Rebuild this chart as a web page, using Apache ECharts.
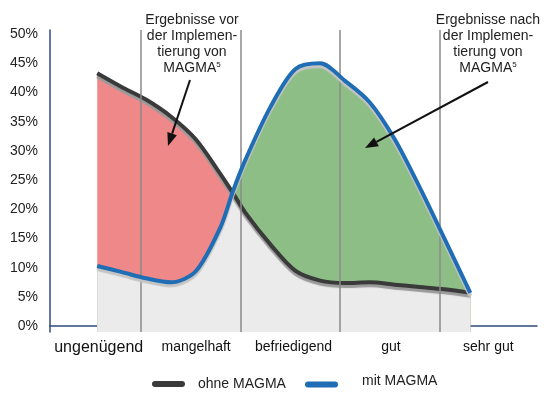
<!DOCTYPE html>
<html>
<head>
<meta charset="utf-8">
<script src="https://cdn.jsdelivr.net/npm/echarts@6/dist/echarts.min.js"></script>
<style>
  html, body { margin: 0; padding: 0; background: #fff; }
  #chart { width: 550px; height: 397px; }
</style>
</head>
<body>
<div id="chart"></div>
<script>
var dom = document.getElementById('chart');
var myChart = echarts.init(dom);

// Kategorien
var categories = ['ungenügend', 'mangelhaft', 'befriedigend', 'gut', 'sehr gut'];
// Grenzen zwischen den Kategorien (senkrechte Linien)
var boundaries = [1, 2, 3, 4];
// x-Position der Messpunkte (in Kategorie-Breiten)
var xPos = [0.56, 0.80, 1.05, 1.30, 1.55, 1.80, 1.92, 2.05, 2.30, 2.55, 2.80,
            3.05, 3.30, 3.55, 3.80, 4.05, 4.31];
// Werte in %
var ohne = [43.3, 41.0, 38.8, 35.9, 32.0, 26.0, 22.9, 19.4, 14.0, 9.5, 7.8,
            7.4, 7.5, 7.1, 6.7, 6.3, 5.7];
var mit = [10.3, 9.3, 8.2, 7.5, 9.4, 17.0, 22.9, 28.5, 37.5, 44.0, 45.0,
           42.0, 38.3, 32.0, 23.8, 15.0, 5.7];

var fontFamily = '"Liberation Sans", Arial, sans-serif';
var smoothness = 0.3;

function pairs(vals) {
    return xPos.map(function (x, i) { return [x, vals[i]]; });
}
var minVals = ohne.map(function (v, i) { return Math.min(v, mit[i]); });

// Pfeil als Grafik
function arrow(x1, y1, x2, y2) {
    var a = Math.atan2(y2 - y1, x2 - x1);
    var L = 13, W = 5;
    var bx = x2 - L * Math.cos(a), by = y2 - L * Math.sin(a);
    return [{
        type: 'line',
        z: 100,
        shape: { x1: x1, y1: y1, x2: bx, y2: by },
        style: { stroke: '#111', lineWidth: 2 }
    }, {
        type: 'polygon',
        z: 100,
        shape: { points: [[x2, y2], [bx + W * Math.sin(a), by - W * Math.cos(a)], [bx - W * Math.sin(a), by + W * Math.cos(a)]] },
        style: { fill: '#111' }
    }];
}

function note(x, text) {
    return {
        type: 'text',
        x: x,
        y: 12,
        z: 100,
        style: {
            text: text,
            fill: '#222',
            fontSize: 14,
            fontFamily: fontFamily,
            align: 'center',
            verticalAlign: 'top',
            lineHeight: 16,
            rich: {
                s: { fontSize: 8, fontFamily: fontFamily, fill: '#222', padding: [0, 0, 7, 0] }
            }
        }
    };
}

var areaBase = {
    type: 'line',
    xAxisIndex: 1,
    smooth: smoothness,
    showSymbol: false,
    silent: true,
    lineStyle: { width: 0 }
};

var legendIcon = 'path://M3,0 L30,0 A3,3 0 0 1 30,6 L3,6 A3,3 0 0 1 3,0 Z';

var option = {
    backgroundColor: '#fff',
    animation: false,
    grid: { left: 50, right: 13, top: 30, bottom: 65, outerBoundsMode: 'none' },
    legend: [{
        data: ['ohne MAGMA'],
        left: 147,
        top: 372,
        itemWidth: 33,
        itemHeight: 6,
        icon: legendIcon,
        textStyle: { fontSize: 14, color: '#222', fontFamily: fontFamily, padding: [0, 0, 0, 8] },
        selectedMode: false
    }, {
        data: ['mit MAGMA'],
        left: 300,
        top: 369,
        itemWidth: 33,
        itemHeight: 6,
        icon: legendIcon,
        formatter: '{t|{name}}',
        textStyle: {
            fontSize: 14, color: '#222', fontFamily: fontFamily, padding: [0, 0, 0, 19],
            rich: { t: { fontSize: 14, color: '#222', fontFamily: fontFamily, padding: [0, 0, 7, 0] } }
        },
        selectedMode: false
    }],
    xAxis: [{
        type: 'category',
        data: categories,
        boundaryGap: true,
        axisLine: { lineStyle: { color: '#2e4c7c', width: 1.5 } },
        axisTick: { show: false },
        splitLine: { show: false },
        axisLabel: {
            interval: 0,
            margin: 8,
            color: '#111',
            fontSize: 14,
            fontFamily: fontFamily,
            formatter: function (v, i) { return i === 0 ? '{b|' + v + '}' : v; },
            rich: { b: { fontSize: 16, fontFamily: fontFamily, color: '#111' } }
        }
    }, {
        type: 'value',
        show: false,
        min: 0.0854,
        max: 4.98
    }],
    yAxis: {
        type: 'value',
        min: -1,
        max: 50.7,
        interval: 1,
        axisLine: { show: true, lineStyle: { color: '#2e4c7c', width: 1.5 } },
        axisTick: { show: false },
        splitLine: { show: false },
        axisLabel: {
            margin: 12,
            color: '#222',
            fontSize: 14,
            fontFamily: fontFamily,
            formatter: function (v) {
                return (v >= 0 && Math.abs(v % 5) < 1e-9) ? v + '%' : '';
            }
        }
    },
    series: [
        Object.assign({}, areaBase, {
            name: 'vorher',
            z: 1,
            data: pairs(ohne),
            areaStyle: { color: '#ef8989', opacity: 1, origin: 'start' }
        }),
        Object.assign({}, areaBase, {
            name: 'nachher',
            z: 2,
            data: pairs(mit),
            areaStyle: { color: '#8dbe86', opacity: 1, origin: 'start' }
        }),
        Object.assign({}, areaBase, {
            name: 'basis',
            z: 3,
            data: pairs(minVals),
            areaStyle: { color: '#ebebeb', opacity: 1, origin: 'start' },
            markLine: {
                silent: true,
                symbol: 'none',
                label: { show: false },
                lineStyle: { color: '#8a8a8a', width: 1.5, type: 'solid' },
                data: boundaries.map(function (b) { return { xAxis: b }; })
            }
        }),
        {
            name: 'ohne MAGMA',
            type: 'line',
            xAxisIndex: 1,
            z: 4,
            smooth: smoothness,
            showSymbol: false,
            data: pairs(ohne),
            itemStyle: { color: '#3a3a3a' },
            lineStyle: {
                color: '#3a3a3a', width: 4,
                shadowColor: '#9a9a9a', shadowOffsetY: 3, shadowBlur: 1
            }
        },
        {
            name: 'mit MAGMA',
            type: 'line',
            xAxisIndex: 1,
            z: 5,
            smooth: smoothness,
            showSymbol: false,
            data: pairs(mit),
            itemStyle: { color: '#1f6db4' },
            lineStyle: {
                color: '#1f6db4', width: 4,
                shadowColor: '#c4c4c4', shadowOffsetY: 3, shadowBlur: 1
            }
        }
    ],
    graphic: [
        note(192, 'Ergebnisse vor\nder Implemen-\ntierung von\nMAGMA{s|5}'),
        note(488, 'Ergebnisse nach\nder Implemen-\ntierung von\nMAGMA{s|5}')
    ].concat(arrow(190, 80, 168, 146), arrow(488, 82, 365, 148))
};

myChart.setOption(option);
window.addEventListener('resize', function () { myChart.resize(); });
</script>
</body>
</html>
